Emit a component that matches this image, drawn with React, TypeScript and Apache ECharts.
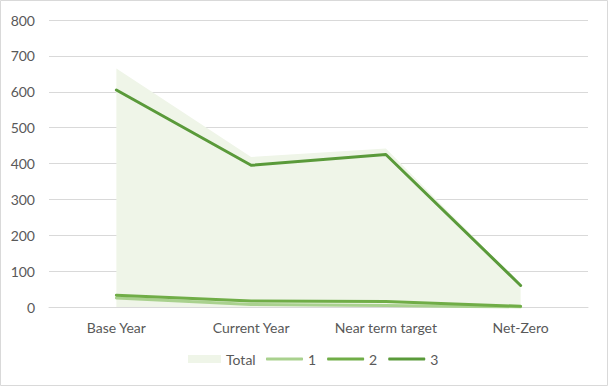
import React, { useEffect, useRef } from "react";
import * as echarts from "echarts";

const categories = ["Base Year", "Current Year", "Near term target", "Net-Zero"];
const totalValues = [665, 418, 442, 63];
const series1Values = [25, 7, 4, 0];
const series2Values = [33, 17, 15, 2];
const series3Values = [605, 395, 425, 60];
const yTicks = [0, 100, 200, 300, 400, 500, 600, 700, 800];

export default function App() {
  const ref = useRef<HTMLDivElement>(null);
  useEffect(() => {
    if (!ref.current) return;
    const chart = echarts.init(ref.current, null, { renderer: "svg" });
    const font = "Lato, 'Open Sans', sans-serif";
    const textStyle = { color: "#595959", fontSize: 14, fontFamily: font };
    const lineSeries = (name: string, data: number[], color: string) => ({
      name,
      type: "line",
      data,
      symbol: "none",
      lineStyle: { color, width: 3, cap: "round", join: "round" },
      itemStyle: { color },
      z: 3,
    });
    chart.setOption({
      animation: false,
      graphic: [
        {
          type: "rect",
          shape: { x: 0.5, y: 0.5, width: 607, height: 385 },
          style: { fill: "none", stroke: "#d9d9d9", lineWidth: 1 },
          silent: true,
        },
      ],
      grid: { left: 49, right: 20, top: 20, bottom: 79, containLabel: false },
      legend: [
        {
          left: 183,
          top: 347,
          padding: 5,
          itemWidth: 33,
          itemHeight: 8,
          itemGap: 10,
          textStyle,
          data: [{ name: "Total", icon: "rect", itemStyle: { color: "#eff5e8" } }],
        },
        {
          left: 261,
          top: 347,
          padding: 5,
          itemWidth: 37,
          itemHeight: 3,
          itemGap: 11,
          textStyle,
          data: [
            { name: "1", icon: "roundRect" },
            { name: "2", icon: "roundRect" },
            { name: "3", icon: "roundRect" },
          ],
        },
      ],
      xAxis: {
        type: "category",
        data: categories,
        boundaryGap: true,
        axisLine: { show: true, lineStyle: { color: "#d9d9d9", width: 1 } },
        axisTick: { show: false },
        axisLabel: { ...textStyle, margin: 13 },
      },
      yAxis: {
        type: "value",
        min: yTicks[0],
        max: yTicks[yTicks.length - 1],
        interval: 100,
        axisLine: { show: false },
        axisTick: { show: false },
        splitLine: { lineStyle: { color: "#d9d9d9", width: 1 } },
        axisLabel: { ...textStyle, margin: 14 },
      },
      series: [
        {
          name: "Total",
          type: "line",
          data: totalValues,
          symbol: "none",
          lineStyle: { width: 0, color: "#eff5e8" },
          itemStyle: { color: "#eff5e8" },
          areaStyle: { color: "#eff5e8", opacity: 1 },
          z: 1,
        },
        lineSeries("1", series1Values, "#a9d18e"),
        lineSeries("2", series2Values, "#70ad47"),
        lineSeries("3", series3Values, "#5a9a3a"),
      ],
    });
    return () => chart.dispose();
  }, []);
  return (
    <div style={{ position: "fixed", left: 0, top: 0, width: 608, height: 386, background: "#fff" }}>
      <div ref={ref} style={{ width: 608, height: 386 }} />
    </div>
  );
}
